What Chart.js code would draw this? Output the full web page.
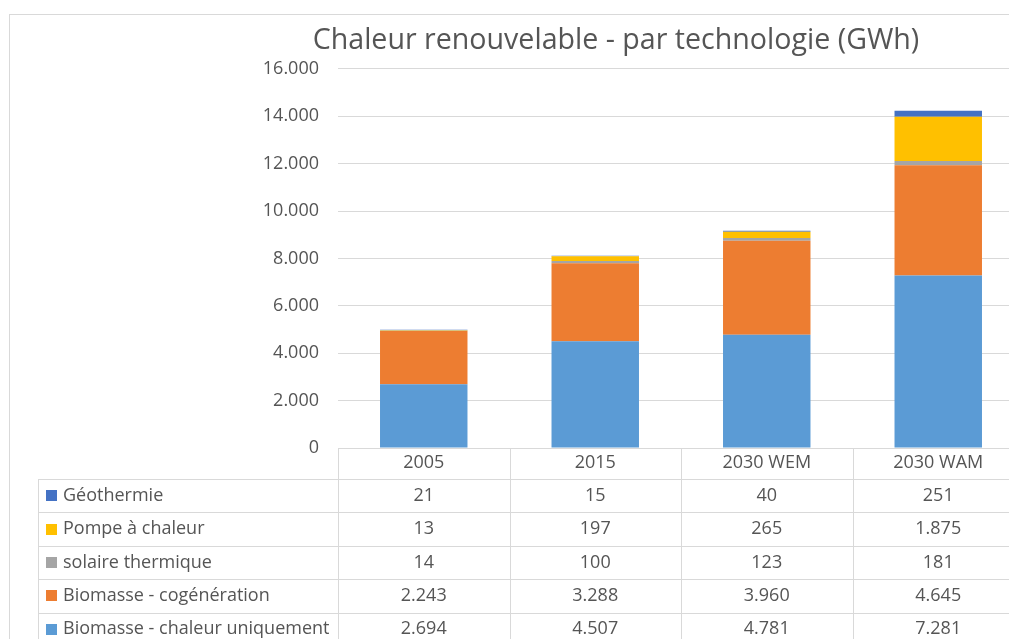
<!DOCTYPE html>
<html>
<head>
<meta charset="utf-8">
<script src="https://cdn.jsdelivr.net/npm/chart.js@4.4.1/dist/chart.umd.min.js"></script>
<style>
    html, body { margin: 0; padding: 0; background: #fff; overflow: hidden; width: 1009px; height: 639px; }
    #cadre { position: absolute; left: 9px; top: 14px; border: 1px solid #d9d9d9; width: 1212px; height: 650px; }
    canvas { display: block; }
</style>
</head>
<body>
<div id="cadre"><canvas id="chaleurChart" width="1212" height="650"></canvas></div>
<script>
// Données du graphique (GWh)
const annees = ['2005', '2015', '2030 WEM', '2030 WAM'];
const biomasseChaleur = [2694, 4507, 4781, 7281];
const biomasseCogen = [2243, 3288, 3960, 4645];
const solaireThermique = [14, 100, 123, 181];
const pompeChaleur = [13, 197, 265, 1875];
const geothermie = [21, 15, 40, 251];
const graduations = [0, 2000, 4000, 6000, 8000, 10000, 12000, 14000, 16000];

const police = '"Open Sans", Lato, sans-serif';
const gris = '#555555';

// Format avec point comme séparateur de milliers
function formatNombre(n) {
    return String(n).replace(/\B(?=(\d{3})+(?!\d))/g, '.');
}

// Tableau de données sous le graphique
const tableauPlugin = {
    id: 'tableau',
    afterDraw(chart) {
        const ctx = chart.ctx;
        const area = chart.chartArea;
        const x = chart.scales.x;
        const largeur = (area.right - area.left) / annees.length;
        const gaucheLabels = 28;
        const hautEntete = 31;
        const hautLigne = 33.4;
        const droite = chart.width;
        const lignes = chart.data.datasets.slice().reverse();
        const basTableau = area.bottom + hautEntete + hautLigne * lignes.length;

        ctx.save();
        ctx.strokeStyle = '#d9d9d9';
        ctx.lineWidth = 1;
        ctx.beginPath();
        // lignes verticales des colonnes
        for (let i = 0; i <= annees.length; i++) {
            const px = Math.round(area.left + i * largeur) + 0.5;
            ctx.moveTo(px, area.bottom);
            ctx.lineTo(px, basTableau);
        }
        // bord gauche de la colonne des libellés
        ctx.moveTo(gaucheLabels + 0.5, area.bottom + hautEntete);
        ctx.lineTo(gaucheLabels + 0.5, basTableau);
        // lignes horizontales
        for (let r = 0; r <= lignes.length; r++) {
            const py = Math.round(area.bottom + hautEntete + r * hautLigne) + 0.5;
            ctx.moveTo(gaucheLabels, py);
            ctx.lineTo(droite, py);
        }
        ctx.stroke();

        ctx.font = '18px ' + police;
        ctx.textBaseline = 'middle';
        lignes.forEach((ds, r) => {
            const cy = area.bottom + hautEntete + r * hautLigne + hautLigne / 2;
            ctx.fillStyle = ds.backgroundColor;
            ctx.fillRect(gaucheLabels + 8, Math.round(cy - 5.5), 11, 11);
            ctx.fillStyle = gris;
            ctx.textAlign = 'left';
            ctx.fillText(ds.label, gaucheLabels + 25, cy);
            ctx.textAlign = 'center';
            ds.data.forEach((v, i) => {
                ctx.fillText(formatNombre(v), x.getPixelForValue(i), cy);
            });
        });
        ctx.restore();
    }
};

const chaleurChart = new Chart(document.getElementById('chaleurChart'), {
    type: 'bar',
    data: {
        labels: annees,
        datasets: [
            { label: 'Biomasse - chaleur uniquement', data: biomasseChaleur, backgroundColor: '#5b9bd5' },
            { label: 'Biomasse - cogénération', data: biomasseCogen, backgroundColor: '#ed7d31' },
            { label: 'solaire thermique', data: solaireThermique, backgroundColor: '#a5a5a5' },
            { label: 'Pompe à chaleur', data: pompeChaleur, backgroundColor: '#ffc000' },
            { label: 'Géothermie', data: geothermie, backgroundColor: '#4472c4' }
        ]
    },
    options: {
        responsive: false,
        animation: false,
        layout: { padding: { left: 198, right: 198, top: 0, bottom: 0 } },
        datasets: { bar: { categoryPercentage: 1, barPercentage: 0.51, borderWidth: 0 } },
        plugins: {
            legend: { display: false },
            tooltip: { enabled: false },
            title: {
                display: true,
                text: 'Chaleur renouvelable - par technologie (GWh)',
                color: gris,
                font: { family: police, size: 28.6, weight: 'normal' },
                padding: { top: 9, bottom: 10.5 }
            }
        },
        scales: {
            x: {
                stacked: true,
                afterFit(scale) { scale.height = 217; },
                grid: { display: false, drawTicks: false },
                border: { display: true, color: '#d9d9d9' },
                ticks: { color: gris, padding: 4, font: { family: police, size: 18 } }
            },
            y: {
                stacked: true,
                min: 0,
                max: 16000,
                afterFit(scale) { scale.width = 130; },
                afterBuildTicks(scale) { scale.ticks = graduations.map(v => ({ value: v })); },
                grid: { color: '#d9d9d9', drawTicks: false },
                border: { display: false },
                ticks: {
                    color: gris,
                    padding: 19,
                    font: { family: police, size: 18 },
                    callback: v => formatNombre(v)
                }
            }
        }
    },
    plugins: [tableauPlugin]
});
</script>
</body>
</html>
